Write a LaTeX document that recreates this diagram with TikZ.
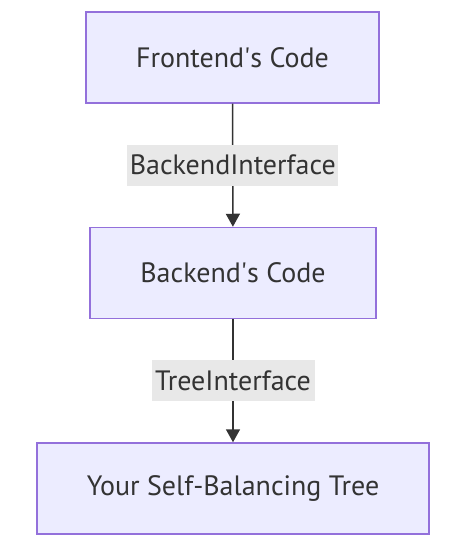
\documentclass[tikz,border=0pt]{standalone}
\usepackage{fontspec}
\setmainfont{PT Sans}
\usetikzlibrary{arrows.meta}
\definecolor{boxfill}{HTML}{ECECFF}
\definecolor{boxline}{HTML}{9370DB}
\definecolor{lblfill}{HTML}{E8E8E8}
\definecolor{ink}{HTML}{333333}
\tikzset{
  box/.style={draw=boxline, fill=boxfill, line width=1.5pt, text=ink, inner sep=0pt,
    minimum height=91pt, font=\fontsize{28}{32}\selectfont},
  lbl/.style={fill=lblfill, text=ink, inner sep=0pt, minimum height=41pt,
    font=\fontsize{28}{32}\selectfont},
  arr/.style={draw=ink, line width=1.5pt, -{Triangle[length=13pt,width=14pt]}}
}
\begin{document}
\begin{tikzpicture}[x=1pt,y=-1pt]
\useasboundingbox (0,0) rectangle (469,548);
\node[box, minimum width=293pt] (b1) at (232.5,57.5) {Frontend\textquotesingle s Code};
\node[box, minimum width=286pt] (b2) at (233,273) {Backend\textquotesingle s Code};
\node[box, minimum width=392pt] (b3) at (233,488.5) {Your Self-Balancing Tree};
\draw[arr] (b1) -- (b2) node[midway, lbl, minimum width=211pt] (l1) {BackendInterface};
\draw[arr] (b2) -- (b3) node[midway, lbl, minimum width=163pt] (l2) {TreeInterface};
\end{tikzpicture}
\end{document}
